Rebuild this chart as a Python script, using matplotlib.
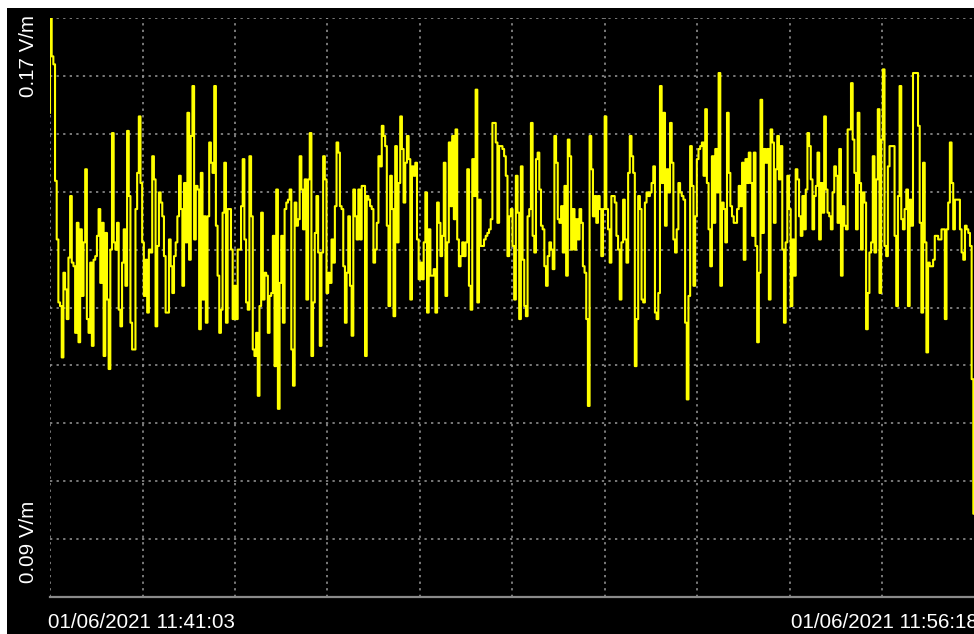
#Importacao de modulos
import numpy as np
import matplotlib
matplotlib.use('Agg')
import matplotlib.pyplot as plt
from matplotlib.patches import Rectangle

###### Dados ################

#inicio e fim da medicao
t_inicio = '01/06/2021 11:41:03'
t_fim = '01/06/2021 11:56:18'
duracao = 915.0  # segundos entre inicio e fim

#limites do eixo de campo (V/m)
e_min = 0.09
e_max = 0.17
rotulo_min = '0.09 V/m'
rotulo_max = '0.17 V/m'

#campo eletrico medido (V/m)
campo = [
    0.1569, 0.1700, 0.1647, 0.1636, 0.1475, 0.1394, 0.1307, 0.1302, 0.1231, 0.1348,
    0.1325, 0.1284, 0.1369, 0.1454, 0.1362, 0.1357, 0.1265, 0.1417, 0.1252, 0.1408,
    0.1316, 0.1390, 0.1491, 0.1284, 0.1265, 0.1362, 0.1247, 0.1366, 0.1371, 0.1399,
    0.1436, 0.1334, 0.1417, 0.1233, 0.1403, 0.1311, 0.1215, 0.1380, 0.1541, 0.1390,
    0.1380, 0.1417, 0.1297, 0.1274, 0.1362, 0.1408, 0.1330, 0.1544, 0.1454, 0.1279,
    0.1242, 0.1242, 0.1436, 0.1486, 0.1564, 0.1472, 0.1390, 0.1316, 0.1366, 0.1293,
    0.1380, 0.1376, 0.1509, 0.1477, 0.1274, 0.1385, 0.1459, 0.1445, 0.1426, 0.1371,
    0.1293, 0.1293, 0.1394, 0.1357, 0.1320, 0.1371, 0.1390, 0.1426, 0.1482, 0.1436,
    0.1330, 0.1472, 0.1390, 0.1569, 0.1366, 0.1537, 0.1606, 0.1394, 0.1468, 0.1463,
    0.1270, 0.1486,
    0.1311, 0.1426, 0.1279, 0.1426, 0.1528, 0.1500, 0.1486, 0.1606, 0.1413, 0.1344,
    0.1265, 0.1297, 0.1431, 0.1500, 0.1279, 0.1436, 0.1436, 0.1380, 0.1284, 0.1330,
    0.1284, 0.1380, 0.1380, 0.1440, 0.1505, 0.1394, 0.1307, 0.1297, 0.1509, 0.1426,
    0.1242, 0.1233, 0.1265, 0.1178, 0.1302, 0.1431, 0.1311, 0.1348, 0.1344, 0.1265,
    0.1316, 0.1320, 0.1399, 0.1219, 0.1463, 0.1160, 0.1334, 0.1399, 0.1279, 0.1436,
    0.1445, 0.1449, 0.1463, 0.1242, 0.1192, 0.1445, 0.1413, 0.1422, 0.1509, 0.1463,
    0.1408, 0.1477, 0.1311, 0.1477, 0.1541, 0.1233, 0.1307, 0.1403, 0.1454, 0.1376,
    0.1247, 0.1376, 0.1509, 0.1477, 0.1320, 0.1348, 0.1334, 0.1394, 0.1362, 0.1440,
    0.1528, 0.1514, 0.1440, 0.1436, 0.1357, 0.1279, 0.1348, 0.1426, 0.1330, 0.1261,
    0.1463, 0.1426,
    0.1394, 0.1463, 0.1394, 0.1468, 0.1468, 0.1233, 0.1454, 0.1449, 0.1440, 0.1436,
    0.1362, 0.1380, 0.1417, 0.1509, 0.1495, 0.1551, 0.1537, 0.1523, 0.1413, 0.1302,
    0.1482, 0.1436, 0.1288, 0.1523, 0.1390, 0.1472, 0.1564, 0.1519, 0.1445, 0.1500,
    0.1537, 0.1505, 0.1311, 0.1495, 0.1482, 0.1500, 0.1394, 0.1339, 0.1362, 0.1339,
    0.1390, 0.1459, 0.1293, 0.1408, 0.1344, 0.1344, 0.1353, 0.1293, 0.1445, 0.1417,
    0.1371, 0.1399, 0.1500, 0.1316, 0.1390, 0.1528, 0.1440, 0.1537, 0.1422, 0.1546,
    0.1394, 0.1357, 0.1371, 0.1390, 0.1371, 0.1390, 0.1491, 0.1330, 0.1297, 0.1505,
    0.1454, 0.1601, 0.1307, 0.1449, 0.1385, 0.1385, 0.1394, 0.1399, 0.1403, 0.1408,
    0.1422, 0.1555, 0.1555, 0.1528, 0.1417, 0.1523, 0.1523, 0.1519, 0.1509, 0.1482,
    0.1371, 0.1426,
    0.1436, 0.1385, 0.1311, 0.1482, 0.1431, 0.1284, 0.1495, 0.1366, 0.1302, 0.1288,
    0.1426, 0.1436, 0.1555, 0.1399, 0.1376, 0.1505, 0.1514, 0.1463, 0.1413, 0.1408,
    0.1357, 0.1330, 0.1371, 0.1390, 0.1380, 0.1353, 0.1537, 0.1500, 0.1422, 0.1417,
    0.1440, 0.1376, 0.1468, 0.1344, 0.1532, 0.1509, 0.1380, 0.1436, 0.1380, 0.1422,
    0.1394, 0.1436, 0.1417, 0.1357, 0.1348, 0.1284, 0.1164, 0.1537, 0.1491, 0.1426,
    0.1454, 0.1417, 0.1454, 0.1436, 0.1371, 0.1436, 0.1564, 0.1436, 0.1408, 0.1362,
    0.1454, 0.1454, 0.1445, 0.1399, 0.1380, 0.1311, 0.1390, 0.1449, 0.1394, 0.1362,
    0.1486, 0.1537, 0.1509, 0.1486, 0.1219, 0.1284, 0.1454, 0.1436, 0.1311, 0.1307,
    0.1445, 0.1459, 0.1454, 0.1459, 0.1472, 0.1495, 0.1293, 0.1284, 0.1320, 0.1606,
    0.1472, 0.1569,
    0.1413, 0.1491, 0.1459, 0.1555, 0.1500, 0.1394, 0.1376, 0.1408, 0.1472, 0.1459,
    0.1454, 0.1449, 0.1279, 0.1173, 0.1316, 0.1523, 0.1468, 0.1330, 0.1426, 0.1505,
    0.1519, 0.1523, 0.1528, 0.1482, 0.1574, 0.1472, 0.1408, 0.1357, 0.1509, 0.1417,
    0.1519, 0.1459, 0.1624, 0.1330, 0.1445, 0.1436, 0.1390, 0.1569, 0.1486, 0.1440,
    0.1426, 0.1417, 0.1417, 0.1436, 0.1468, 0.1440, 0.1500, 0.1366, 0.1505, 0.1472,
    0.1514, 0.1472, 0.1399, 0.1514, 0.1385, 0.1252, 0.1348, 0.1587, 0.1403, 0.1519,
    0.1500, 0.1519, 0.1311, 0.1546, 0.1528, 0.1417, 0.1491, 0.1537, 0.1477, 0.1523,
    0.1380, 0.1279, 0.1390, 0.1482, 0.1436, 0.1302, 0.1394, 0.1344, 0.1491, 0.1477,
    0.1426, 0.1399, 0.1454, 0.1408, 0.1463, 0.1541, 0.1523, 0.1477, 0.1408, 0.1454,
    0.1468, 0.1514,
    0.1394, 0.1472, 0.1431, 0.1564, 0.1463, 0.1431, 0.1426, 0.1408, 0.1459, 0.1495,
    0.1482, 0.1417, 0.1519, 0.1344, 0.1440, 0.1413, 0.1408, 0.1546, 0.1546, 0.1610,
    0.1532, 0.1486, 0.1408, 0.1569, 0.1472, 0.1380, 0.1459, 0.1445, 0.1270, 0.1320,
    0.1376, 0.1390, 0.1509, 0.1376, 0.1477, 0.1574, 0.1320, 0.1532, 0.1629, 0.1385,
    0.1371, 0.1495, 0.1523, 0.1523, 0.1523, 0.1399, 0.1302, 0.1454, 0.1606, 0.1422,
    0.1408, 0.1436, 0.1463, 0.1302, 0.1449, 0.1413, 0.1624, 0.1624, 0.1624, 0.1551,
    0.1417, 0.1293, 0.1500, 0.1390, 0.1238, 0.1362, 0.1357, 0.1357, 0.1366, 0.1399,
    0.1399, 0.1394, 0.1394, 0.1408, 0.1408, 0.1284, 0.1408, 0.1445, 0.1528, 0.1472,
    0.1408, 0.1449, 0.1449, 0.1449, 0.1408, 0.1376, 0.1366, 0.1413, 0.1408, 0.1403,
    0.1385, 0.1201, 0.1015,
]

###### Grafico ################

W, H = 974, 634
fig = plt.figure(figsize=(W / 100, H / 100), dpi=100, facecolor='white')

#fundo preto do painel (deixa uma borda branca em cima e na esquerda)
fundo = Rectangle((7 / W, 0), 1, 1 - 8 / H, transform=fig.transFigure,
                  facecolor='black', edgecolor='none', zorder=-10)
fig.add_artist(fundo)

ax = fig.add_axes([50 / W, 37 / H, 925 / W, 579 / H])
ax.set_zorder(5)
ax.set_facecolor('black')

#tempo em segundos desde o inicio, amostras igualmente espacadas
t = np.linspace(0, duracao, len(campo))
ax.plot(t, campo, color='#ffff00', lw=1.5, drawstyle='steps-pre', zorder=3)

ax.set_xlim(0, duracao)
ax.set_ylim(e_min, e_max)

#grade pontilhada: 10 divisoes em cada eixo
ax.set_xticks(np.linspace(0, duracao, 11))
ax.set_yticks(np.linspace(e_min, e_max, 11))
ax.grid(True, color='#9a9a9a', lw=1.1, ls=(0, (1.5, 2.8)))
ax.set_axisbelow(True)
ax.tick_params(length=0, labelbottom=False, labelleft=False)
for lado in ['top', 'right', 'left']:
    ax.spines[lado].set_visible(False)
ax.spines['bottom'].set_color('#8a8a8a')
ax.spines['bottom'].set_linewidth(1.6)

#rotulos de texto
fonte = dict(color='white', fontsize=14.8, family=['Liberation Sans', 'DejaVu Sans'])
fig.text(48 / W, 1 - 628 / H, t_inicio, ha='left', va='baseline', **fonte)
fig.text(978 / W, 1 - 628 / H, t_fim, ha='right', va='baseline', **fonte)
fig.text(29 / W, 1 - 15 / H, rotulo_max, rotation=90, ha='center', va='top', **fonte)
fig.text(29 / W, 1 - 583 / H, rotulo_min, rotation=90, ha='center', va='bottom', **fonte)

fig.savefig('out.png', dpi=100, facecolor='white')
plt.close()
